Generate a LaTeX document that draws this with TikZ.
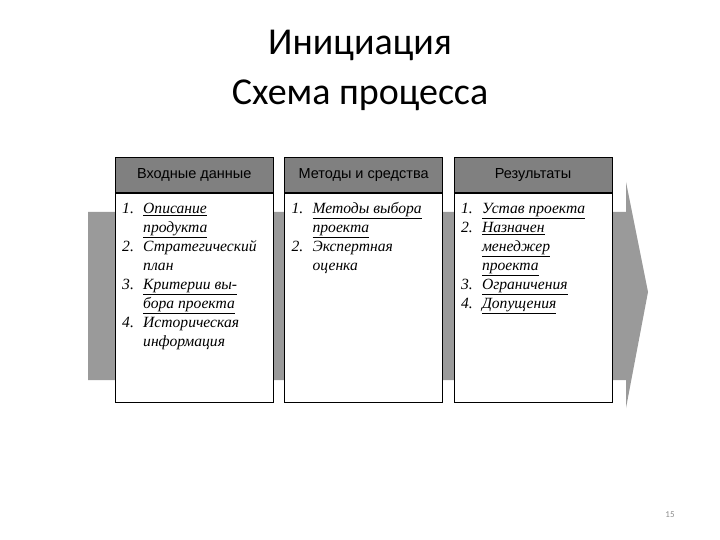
\documentclass[tikz,border=0pt]{standalone}
\usepackage{fontspec}
\setmainfont{Liberation Serif}
\newfontfamily\slidefont{Carlito}
\newfontfamily\headfont{Liberation Sans}
\usepackage{xcolor}
\definecolor{band_gray}{HTML}{9A9A9A}
\definecolor{head_gray}{HTML}{808080}
\definecolor{num_gray}{HTML}{8C8C8C}
\usetikzlibrary{positioning}

\newcommand{\listfont}{\fontsize{15.6}{19}\selectfont\itshape}
\newcommand{\ul}[1]{\underline{#1}}

\begin{document}
\begin{tikzpicture}[
        x=1pt, y=-1pt,
        node distance=11pt,
        head/.style={fill=head_gray,draw=black,thin,minimum width=158pt,minimum height=36pt,inner sep=0pt,font=\headfont\fontsize{14.5}{16}\selectfont},
        bodybox/.style={fill=white,draw=black,thin,minimum width=158pt,minimum height=209pt,inner sep=0pt},
        itemlist/.style={anchor=north west,inner sep=0pt,align=left,font=\listfont}]
        \useasboundingbox (0,0) rectangle (720,540);
        % title
        \node[font=\slidefont\fontsize{38}{50}\selectfont,align=center] (title) at (360,70) {Инициация\\Схема процесса};
        % big arrow behind the boxes
        \fill[band_gray] (88,212) -- (626,212) -- (626,182) -- (648,292) -- (626,408) -- (626,380) -- (88,380) -- cycle;
        % headers
        \node[head, anchor=north west] (hIn) at (115,157) {Входные данные};
        \node[head] (hMet) [right = of hIn] {Методы и средства};
        \node[head] (hRes) [right = of hMet] {Результаты};
        % bodies
        \node[bodybox, anchor=north] (bIn) at (hIn.south) {};
        \node[bodybox, anchor=north] (bMet) at (hMet.south) {};
        \node[bodybox, anchor=north] (bRes) at (hRes.south) {};
        \foreach \b in {hIn,hMet,hRes}
            \draw[line width=2pt] (\b.south west) -- (\b.south east);
        % lists
        \node[itemlist] (lIn) at ([xshift=7pt,yshift=-7pt]bIn.north west) {%
            \begin{tabular}{@{}p{21pt}@{}l@{}}
            1. & \ul{Описание}\\
               & \ul{продукта}\\
            2. & Стратегический\\
               & план\\
            3. & \ul{Критерии вы-}\\
               & \ul{бора проекта}\\
            4. & Историческая\\
               & информация
            \end{tabular}};
        \node[itemlist] (lMet) at ([xshift=7pt,yshift=-7pt]bMet.north west) {%
            \begin{tabular}{@{}p{21pt}@{}l@{}}
            1. & \ul{Методы выбора}\\
               & \ul{проекта}\\
            2. & Экспертная\\
               & оценка
            \end{tabular}};
        \node[itemlist] (lRes) at ([xshift=7pt,yshift=-7pt]bRes.north west) {%
            \begin{tabular}{@{}p{21pt}@{}l@{}}
            1. & \ul{Устав проекта}\\
            2. & \ul{Назначен}\\
               & \ul{менеджер}\\
               & \ul{проекта}\\
            3. & \ul{Ограничения}\\
            4. & \ul{Допущения}
            \end{tabular}};
        % page number
        \node[font=\slidefont\fontsize{9}{10}\selectfont,text=num_gray] (pg) at (670,515) {15};
    \end{tikzpicture}
\end{document}
